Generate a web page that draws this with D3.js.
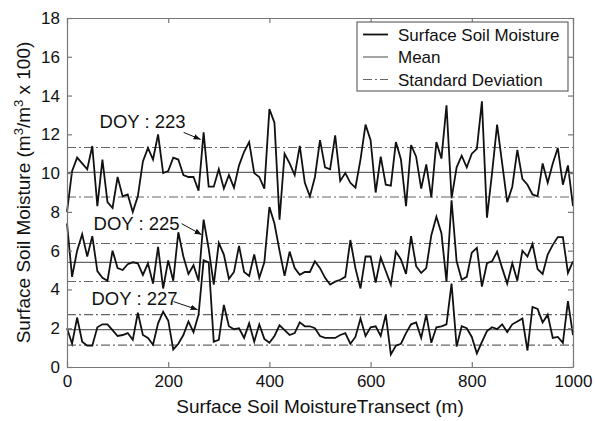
<!DOCTYPE html>
<html>
<head>
<meta charset="utf-8">
<script src="https://cdn.jsdelivr.net/npm/d3@7/dist/d3.min.js"></script>
<style>
  body { margin: 0; background: #fff; }
  svg text { font-family: "Liberation Sans", Arial, Helvetica, sans-serif; fill: #111; }
</style>
</head>
<body>
<div id="viz"></div>
<script>
const margin = {top: 18, right: 22, bottom: 54, left: 67};
const width = 595;
const height = 421;

// transect positions (m)
const transect = [
  0, 10, 20, 30, 40, 50, 60, 70, 80, 90,
  100, 110, 120, 130, 140, 150, 160, 170, 180, 190,
  200, 210, 220, 230, 240, 250, 260, 270, 280, 290,
  300, 310, 320, 330, 340, 350, 360, 370, 380, 390,
  400, 410, 420, 430, 440, 450, 460, 470, 480, 490,
  500, 510, 520, 530, 540, 550, 560, 570, 580, 590,
  600, 610, 620, 630, 640, 650, 660, 670, 680, 690,
  700, 710, 720, 730, 740, 750, 760, 770, 780, 790,
  800, 810, 820, 830, 840, 850, 860, 870, 880, 890,
  900, 910, 920, 930, 940, 950, 960, 970, 980, 990,
  1000
];

// surface soil moisture (m3/m3 x 100)
const doy223 = [
  8.0, 10.1, 10.8, 10.5, 10.2, 11.4, 8.3, 10.7, 8.5, 8.2,
  9.8, 8.8, 8.9, 8.0, 8.8, 10.6, 11.3, 10.7, 12.0, 10.0,
  10.1, 10.8, 10.7, 9.9, 9.8, 9.8, 9.1, 12.1, 9.3, 9.3,
  10.2, 9.2, 9.9, 9.25, 10.4, 11.1, 11.6, 10.0, 9.8, 9.2,
  13.3, 12.6, 7.6, 11.0, 10.5, 9.9, 11.4, 9.5, 8.8, 9.8,
  11.7, 10.3, 10.2, 11.95, 9.6, 10.0, 9.5, 9.25, 10.7, 12.5,
  11.7, 9.0, 10.85, 9.4, 9.35, 11.6, 10.7, 8.3, 11.45, 10.85,
  9.2, 10.45, 8.75, 11.6, 10.75, 13.5, 8.7, 10.3, 10.9, 10.3,
  11.0, 11.25, 13.7, 7.7, 10.0, 12.5, 10.5, 8.5, 9.3, 11.2,
  9.7, 9.4, 8.9, 8.8, 10.5, 9.5, 10.5, 11.3, 9.4, 10.4,
  8.3
];
const doy225 = [
  7.4, 4.65, 6.0, 6.85, 5.7, 6.75, 4.95, 4.6, 4.45, 6.0,
  5.1, 5.0, 5.3, 5.4, 5.35, 4.75, 5.35, 4.3, 6.2, 4.05,
  5.5, 4.45, 6.95, 5.7, 4.8, 5.25, 4.45, 7.6, 6.1, 4.25,
  6.4, 5.8, 4.55, 4.9, 6.25, 4.9, 4.7, 5.8, 4.6, 5.4,
  8.25, 7.4, 6.0, 4.7, 5.95, 5.1, 4.75, 4.9, 4.9, 5.45,
  5.1, 4.6, 4.25, 4.4, 4.5, 4.65, 6.55, 5.1, 4.05, 5.7,
  5.7, 4.35, 5.65, 4.95, 4.25, 5.95, 5.55, 4.8, 6.75, 5.2,
  4.85, 5.1, 6.8, 7.75, 6.9, 4.4, 8.6, 5.45, 4.5, 4.65,
  5.9, 6.15, 4.15, 5.35, 5.45, 5.95, 5.1, 4.3, 5.35, 4.45,
  6.0, 5.7, 6.35, 5.05, 4.8, 5.8, 6.3, 6.7, 6.7, 4.85,
  5.45
];
const doy227 = [
  2.0, 1.2, 2.55, 1.3, 1.1, 1.1, 2.05, 2.2, 2.2, 1.9,
  1.6, 1.65, 1.75, 1.4, 2.8, 1.65, 1.5, 1.15, 2.25, 2.85,
  2.4, 0.9, 1.2, 1.65, 2.35, 1.8, 2.7, 5.5, 5.4, 1.3,
  1.4, 3.2, 2.1, 1.95, 2.0, 1.5, 2.25, 1.3, 2.2, 1.45,
  1.25, 1.6, 2.15, 1.9, 1.65, 1.75, 2.3, 2.1, 2.1, 2.0,
  1.6, 1.5, 1.5, 1.5, 1.65, 1.75, 1.2, 1.55, 2.5, 1.6,
  2.05, 2.1, 1.6, 2.7, 0.65, 1.1, 1.2, 1.75, 2.2, 2.3,
  1.5, 2.7, 1.25, 2.05, 2.1, 2.2, 4.3, 1.05, 2.1, 2.0,
  1.55, 0.7, 1.3, 1.85, 2.05, 1.95, 2.2, 1.8, 2.2, 2.35,
  2.5, 0.85, 3.1, 3.0, 2.3, 2.7, 1.5, 1.55, 1.25, 3.4,
  1.65
];

const days = ["DOY : 223", "DOY : 225", "DOY : 227"];
const means = [10.04, 5.40, 1.93];
const stdUpper = [11.32, 6.37, 2.70];
const stdLower = [8.77, 4.41, 1.13];

const xTicks = [0, 200, 400, 600, 800, 1000];
const yTicks = [0, 2, 4, 6, 8, 10, 12, 14, 16, 18];
const legendLabels = ["Surface Soil Moisture", "Mean", "Standard Deviation"];

const dashDot = "9,3,2,3";

const createViz = () => {
  var svg = d3.select("#viz")
    .append("svg")
    .attr("width", width)
    .attr("height", height);

  var xscale = d3.scaleLinear()
    .domain([0, 1000])
    .range([margin.left, width - margin.right]);

  var yscale = d3.scaleLinear()
    .domain([0, 18])
    .range([height - margin.bottom, margin.top]);

  const series = [doy223, doy225, doy227];

  // mean and std lines
  const g = svg.append("g");
  means.forEach((m, i) => {
    g.append("line")
      .attr("x1", xscale(0)).attr("x2", xscale(1000))
      .attr("y1", yscale(m)).attr("y2", yscale(m))
      .attr("stroke", "#666").attr("stroke-width", 1.2);
    [stdUpper[i], stdLower[i]].forEach(s => {
      g.append("line")
        .attr("x1", xscale(0)).attr("x2", xscale(1000))
        .attr("y1", yscale(s)).attr("y2", yscale(s))
        .attr("stroke", "#666").attr("stroke-width", 1.1)
        .attr("stroke-dasharray", dashDot);
    });
  });

  var line = d3.line()
    .x((d, i) => xscale(transect[i]))
    .y(d => yscale(d));

  svg.append("g")
    .selectAll("path")
    .data(series)
    .join("path")
      .attr("d", line)
      .attr("fill", "none")
      .attr("stroke", "#111")
      .attr("stroke-width", 1.8)
      .attr("stroke-linejoin", "miter");

  // axes, ticks inside like matlab
  const axisColor = "#777";
  const bottom = svg.append("g")
    .attr("transform", "translate(0," + (height - margin.bottom) + ")")
    .call(d3.axisBottom(xscale).tickValues(xTicks).tickFormat(d3.format("d"))
      .tickSizeInner(-5).tickSizeOuter(0).tickPadding(8));
  const left = svg.append("g")
    .attr("transform", "translate(" + margin.left + ",0)")
    .call(d3.axisLeft(yscale).tickValues(yTicks).tickSizeInner(-5).tickSizeOuter(0).tickPadding(7));
  const top = svg.append("g")
    .attr("transform", "translate(0," + margin.top + ")")
    .call(d3.axisTop(xscale).tickValues(xTicks).tickSizeInner(-5).tickSizeOuter(0).tickFormat(""));
  const right = svg.append("g")
    .attr("transform", "translate(" + (width - margin.right) + ",0)")
    .call(d3.axisRight(yscale).tickValues(yTicks).tickSizeInner(-5).tickSizeOuter(0).tickFormat(""));

  [bottom, left, top, right].forEach(a => {
    a.selectAll("path, line").attr("stroke", axisColor).attr("stroke-width", 1.2);
    a.selectAll("text")
      .style("font-size", "17px")
      .attr("fill", "#111")
      .style("font-family", '"Liberation Sans", Arial, sans-serif');
  });

  // axis labels
  svg.append("text")
    .attr("x", (margin.left + width - margin.right) / 2)
    .attr("y", height - 8)
    .attr("text-anchor", "middle")
    .style("font-size", "19px")
    .text("Surface Soil MoistureTransect (m)");

  const ylab = svg.append("text")
    .attr("transform", "translate(30," + ((margin.top + height - margin.bottom) / 2) + ") rotate(-90)")
    .attr("text-anchor", "middle")
    .style("font-size", "19px");
  ylab.append("tspan").text("Surface Soil Moisture (m");
  ylab.append("tspan").attr("dy", -7).style("font-size", "13px").text("3");
  ylab.append("tspan").attr("dy", 7).text("/m");
  ylab.append("tspan").attr("dy", -7).style("font-size", "13px").text("3");
  ylab.append("tspan").attr("dy", 7).text(" x 100)");

  // DOY annotations with arrows
  svg.append("defs").append("marker")
    .attr("id", "head")
    .attr("viewBox", "0 0 10 10")
    .attr("refX", 10).attr("refY", 5)
    .attr("markerWidth", 7).attr("markerHeight", 7)
    .attr("orient", "auto")
    .append("path")
      .attr("d", "M0,1 L10,5 L0,9 z")
      .attr("fill", "#111");

  const annot = [
    {idx: 27, text: {x: -18, y: -4}, tail: {x: -20, y: 0}, tip: {x: -3, y: 7}},
    {idx: 27, text: {x: -24, y: 10}, tail: {x: -22, y: 4}, tip: {x: -2, y: 15}},
    {idx: 26, text: {x: -21, y: -10}, tail: {x: -25, y: -13}, tip: {x: -1, y: -5}}
  ];
  annot.forEach((a, i) => {
    const px = xscale(transect[a.idx]);
    const py = yscale(series[i][a.idx]);
    svg.append("text")
      .attr("x", px + a.text.x)
      .attr("y", py + a.text.y)
      .attr("text-anchor", "end")
      .style("font-size", "18.5px")
      .text(days[i]);
    svg.append("line")
      .attr("x1", px + a.tail.x).attr("y1", py + a.tail.y)
      .attr("x2", px + a.tip.x).attr("y2", py + a.tip.y)
      .attr("stroke", "#111").attr("stroke-width", 1)
      .attr("marker-end", "url(#head)");
  });

  // legend
  const lx = 357, ly = 22, lw = 211, lh = 69;
  const leg = svg.append("g");
  leg.append("rect")
    .attr("x", lx).attr("y", ly)
    .attr("width", lw).attr("height", lh)
    .attr("fill", "#fff")
    .attr("stroke", "#666").attr("stroke-width", 1.2);
  const styles = [
    {stroke: "#111", w: 1.8, dash: null},
    {stroke: "#666", w: 1.2, dash: null},
    {stroke: "#666", w: 1.1, dash: dashDot}
  ];
  legendLabels.forEach((lab, i) => {
    const yy = ly + 12.5 + i * 22.5;
    leg.append("line")
      .attr("x1", lx + 6).attr("x2", lx + 31)
      .attr("y1", yy).attr("y2", yy)
      .attr("stroke", styles[i].stroke)
      .attr("stroke-width", styles[i].w)
      .attr("stroke-dasharray", styles[i].dash);
    leg.append("text")
      .attr("x", lx + 41)
      .attr("y", yy + 6)
      .style("font-size", "17px")
      .text(lab);
  });
};

createViz();
</script>
</body>
</html>
